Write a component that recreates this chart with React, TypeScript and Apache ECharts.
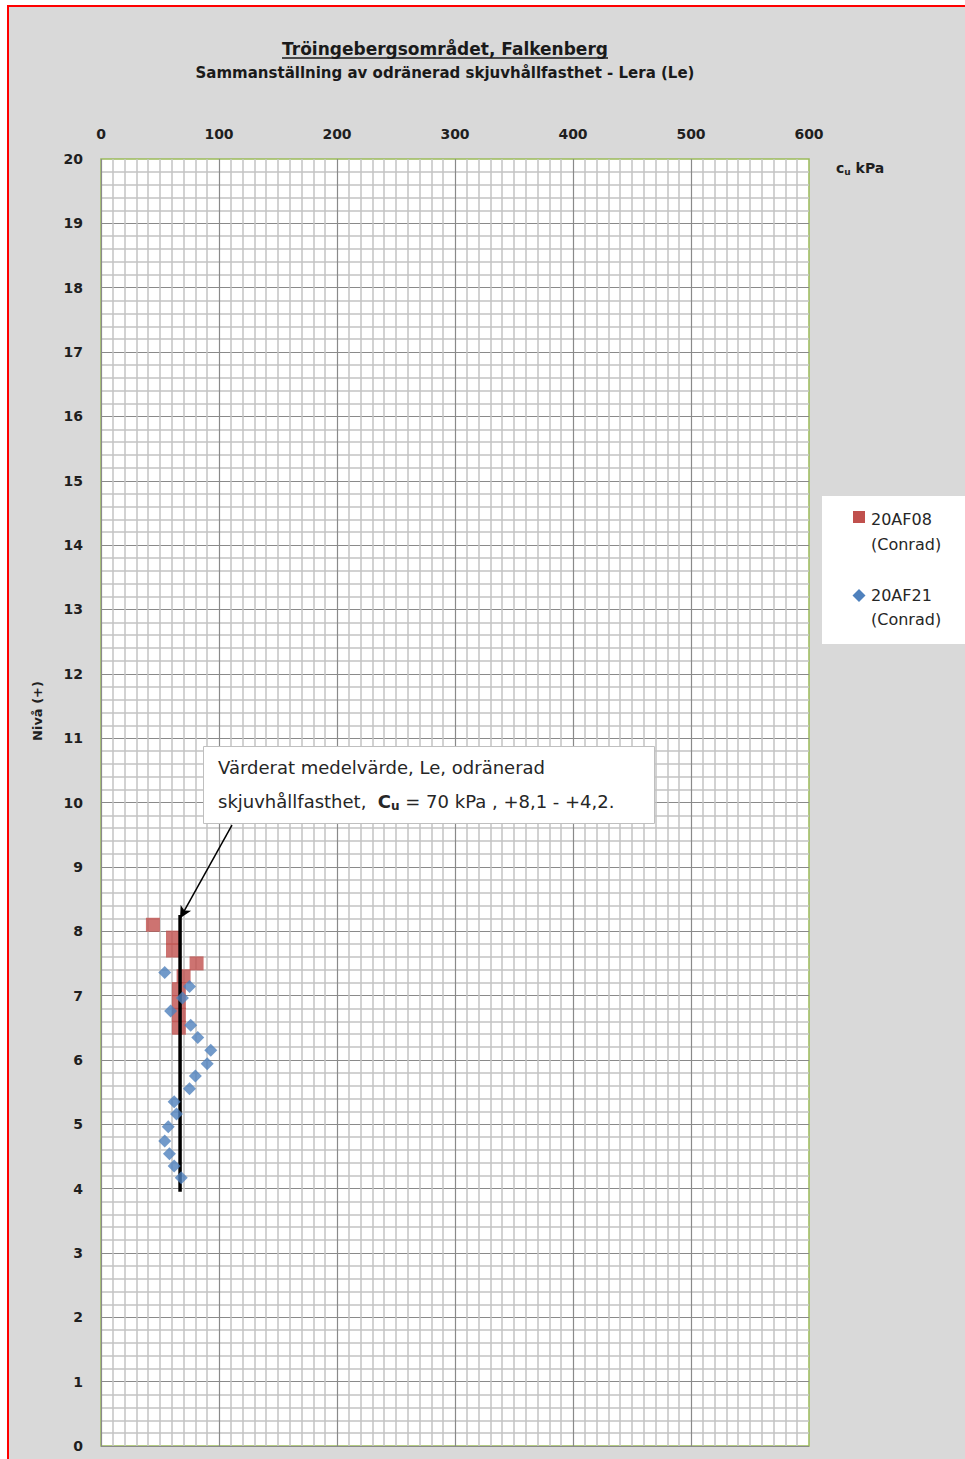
import React, { useEffect, useRef } from "react";
import * as echarts from "echarts";

const FONT = '"DejaVu Sans", sans-serif';

// Axes
const X_MIN = 0;
const X_MAX = 600;
const X_STEP = 100;
const Y_MIN = 0;
const Y_MAX = 20;
const Y_STEP = 1;

// 20AF08 (Conrad) – cu [kPa], level [m]
const af08Cu = [44, 61, 61, 81, 70, 66, 66, 66, 66];
const af08Level = [8.1, 7.9, 7.7, 7.5, 7.3, 7.1, 6.9, 6.7, 6.5];

// 20AF21 (Conrad)
const af21Cu = [54, 75, 69, 59, 76, 82, 93, 90, 80, 75, 62, 64, 57, 54, 58, 62, 68];
const af21Level = [7.36, 7.14, 6.96, 6.76, 6.54, 6.35, 6.15, 5.94, 5.75, 5.55, 5.35, 5.16, 4.96, 4.74, 4.54, 4.35, 4.17];

// Evaluated mean value line
const meanCu = [67, 67];
const meanLevel = [8.25, 3.95];

// Annotation arrow (data coords)
const arrowFrom = [111, 9.65];
const arrowTo = [67, 8.2];

const zip = (a: number[], b: number[]) => a.map((v, i) => [v, b[i]]);

export default function App() {
  const ref = useRef<HTMLDivElement>(null);

  useEffect(() => {
    document.body.style.margin = "0";
    document.body.style.overflow = "hidden";
    if (!ref.current) return;
    const chart = echarts.init(ref.current, null, { renderer: "svg" });

    const option: any = {
      animation: false,
      backgroundColor: "#d9d9d9",
      textStyle: { fontFamily: FONT },
      title: {
        text: "Tröingebergsområdet, Falkenberg",
        subtext: "Sammanställning av odränerad skjuvhållfasthet - Lera (Le)",
        left: 445,
        top: 39,
        textAlign: "center",
        padding: 0,
        itemGap: 5,
        textStyle: { fontFamily: FONT, fontSize: 17, fontWeight: "bold", color: "#1a1a1a", lineHeight: 20 },
        subtextStyle: { fontFamily: FONT, fontSize: 15, fontWeight: "bold", color: "#1a1a1a", lineHeight: 18 },
      },
      grid: {
        left: 101,
        top: 159,
        width: 708,
        height: 1287,
        show: true,
        backgroundColor: "#ffffff",
        borderColor: "#9bbb59",
        borderWidth: 1.5,
      },
      xAxis: {
        type: "value",
        position: "top",
        min: X_MIN,
        max: X_MAX,
        interval: X_STEP,
        axisLine: { show: false },
        axisTick: { show: false },
        axisLabel: { fontFamily: FONT, fontSize: 14, fontWeight: "bold", color: "#1f1f1f", margin: 18 },
        splitLine: { show: true, showMaxLine: false, lineStyle: { color: "#8a8a8a", width: 1.2 } },
        minorTick: { show: false, splitNumber: 10 },
        minorSplitLine: { show: true, lineStyle: { color: "#c3c3c3", width: 1.5 } },
      },
      yAxis: {
        type: "value",
        min: Y_MIN,
        max: Y_MAX,
        interval: Y_STEP,
        axisLine: { show: false },
        axisTick: { show: false },
        axisLabel: { fontFamily: FONT, fontSize: 14, fontWeight: "bold", color: "#1f1f1f", margin: 18 },
        splitLine: { show: true, showMaxLine: false, lineStyle: { color: "#8a8a8a", width: 1.2 } },
        minorTick: { show: false, splitNumber: 5 },
        minorSplitLine: { show: true, lineStyle: { color: "#c3c3c3", width: 1.5 } },
      },
      series: [
        {
          name: "20AF08 (Conrad)",
          type: "scatter",
          symbol: "rect",
          symbolSize: 14,
          itemStyle: { color: "#c0504d" },
          data: zip(af08Cu, af08Level),
          z: 2,
        },
        {
          name: "Värderat medelvärde",
          type: "line",
          symbol: "none",
          lineStyle: { color: "#000000", width: 3.5 },
          data: zip(meanCu, meanLevel),
          z: 3,
          markLine: {
            silent: true,
            symbol: ["none", "arrow"],
            symbolSize: [9, 12],
            label: { show: false },
            lineStyle: { color: "#000000", width: 1.5, type: "solid" },
            data: [[{ coord: arrowFrom }, { coord: arrowTo }]],
          },
        },
        {
          name: "20AF21 (Conrad)",
          type: "scatter",
          symbol: "diamond",
          symbolSize: 13,
          itemStyle: { color: "#4f81bd" },
          data: zip(af21Cu, af21Level),
          z: 4,
        },
      ],
      graphic: [
        // page margin and red frame
        { type: "rect", z: 200, shape: { x: 0, y: 0, width: 965, height: 5 }, style: { fill: "#ffffff" } },
        { type: "rect", z: 200, shape: { x: 0, y: 0, width: 7, height: 1459 }, style: { fill: "#ffffff" } },
        { type: "line", z: 201, shape: { x1: 8, y1: 6, x2: 965, y2: 6 }, style: { stroke: "#ff0000", lineWidth: 2 } },
        { type: "line", z: 201, shape: { x1: 8, y1: 5, x2: 8, y2: 1459 }, style: { stroke: "#ff0000", lineWidth: 2 } },
        // title underline
        { type: "line", z: 50, shape: { x1: 282, y1: 58, x2: 608, y2: 58 }, style: { stroke: "#1a1a1a", lineWidth: 1.3 } },
        // y-axis name
        {
          type: "text",
          z: 50,
          x: 37,
          y: 711,
          rotation: Math.PI / 2,
          style: { text: "Nivå (+)", fontFamily: FONT, fontSize: 13, fontWeight: "bold", fill: "#1f1f1f", align: "center", verticalAlign: "middle" },
        },
        // x-axis unit
        {
          type: "text",
          z: 50,
          x: 836,
          y: 168,
          style: {
            text: "{c|c}{s|u}{c| kPa}",
            fontFamily: FONT,
            verticalAlign: "middle",
            rich: {
              c: { fontFamily: FONT, fontSize: 14, fontWeight: "bold", fill: "#1f1f1f" },
              s: { fontFamily: FONT, fontSize: 9, fontWeight: "bold", fill: "#1f1f1f", padding: [8, 0, 0, 0] },
            },
          },
        },
        // legend
        { type: "rect", z: 100, shape: { x: 822, y: 496, width: 150, height: 148 }, style: { fill: "#ffffff" } },
        { type: "rect", z: 101, shape: { x: 853, y: 511, width: 12, height: 12 }, style: { fill: "#c0504d" } },
        { type: "text", z: 101, x: 871, y: 519, style: { text: "20AF08", fontFamily: FONT, fontSize: 16, fill: "#262626", verticalAlign: "middle" } },
        { type: "text", z: 101, x: 871, y: 544, style: { text: "(Conrad)", fontFamily: FONT, fontSize: 16, fill: "#262626", verticalAlign: "middle" } },
        { type: "polygon", z: 101, shape: { points: [[859, 589], [865.5, 595.5], [859, 602], [852.5, 595.5]] }, style: { fill: "#4f81bd" } },
        { type: "text", z: 101, x: 871, y: 595, style: { text: "20AF21", fontFamily: FONT, fontSize: 16, fill: "#262626", verticalAlign: "middle" } },
        { type: "text", z: 101, x: 871, y: 619, style: { text: "(Conrad)", fontFamily: FONT, fontSize: 16, fill: "#262626", verticalAlign: "middle" } },
        // annotation box
        { type: "rect", z: 100, shape: { x: 203.5, y: 746.5, width: 451, height: 77 }, style: { fill: "#ffffff", stroke: "#bfbfbf", lineWidth: 1 } },
        { type: "text", z: 101, x: 218, y: 767, style: { text: "Värderat medelvärde, Le, odränerad", fontFamily: FONT, fontSize: 18, fill: "#262626", verticalAlign: "middle" } },
        {
          type: "text",
          z: 101,
          x: 218,
          y: 801,
          style: {
            text: "skjuvhållfasthet,  {b|C}{s|u} = 70 kPa , +8,1 - +4,2.",
            fontFamily: FONT,
            fontSize: 18,
            fill: "#262626",
            verticalAlign: "middle",
            rich: {
              b: { fontFamily: FONT, fontSize: 18, fontWeight: "bold", fill: "#262626" },
              s: { fontFamily: FONT, fontSize: 12, fontWeight: "bold", fill: "#262626", padding: [10, 0, 0, 0] },
            },
          },
        },
      ],
    };

    chart.setOption(option);
    return () => chart.dispose();
  }, []);

  return <div ref={ref} style={{ width: 965, height: 1459 }} />;
}
